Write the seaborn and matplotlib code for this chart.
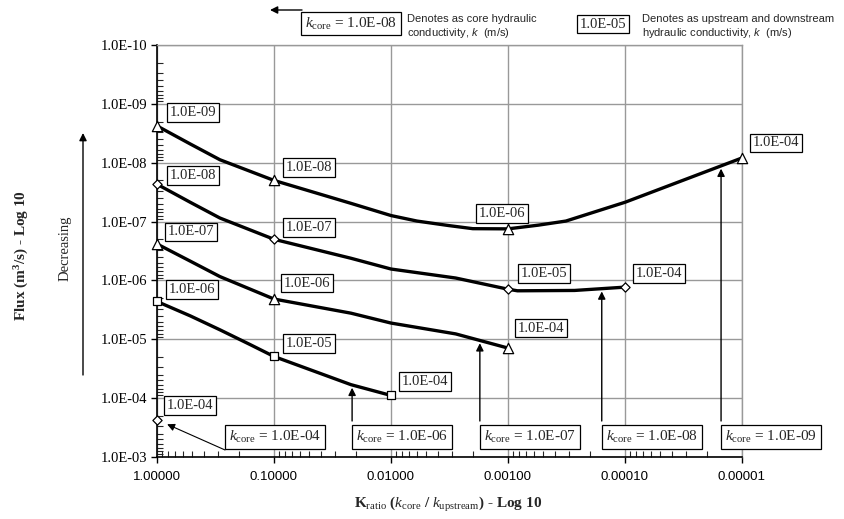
# flux versus k-ratio for several core conductivities
# values

import numpy as np
import matplotlib
matplotlib.use("Agg")
import matplotlib.pyplot as plt
import matplotlib.transforms as mtransforms
from matplotlib.ticker import LogLocator, NullFormatter
import seaborn as sns

# k_core = 1.0E-09
kratio_09 = [1, 0.52, 0.29, 0.1, 0.022, 0.01, 0.006, 0.0032, 0.002, 0.001,
             0.00055, 0.00032, 0.0001, 0.00001]
flux_09 = [2.37e-9, 4.8e-9, 8.9e-9, 2.0e-8, 4.9e-8, 7.9e-8, 9.8e-8, 1.17e-7,
           1.32e-7, 1.33e-7, 1.15e-7, 9.8e-8, 4.7e-8, 8.3e-9]
marked_09 = [0, 3, 9, 13]
kup_09 = ["1.0E-09", "1.0E-08", "1.0E-06", "1.0E-04"]

# k_core = 1.0E-08
kratio_08 = [1, 0.52, 0.29, 0.1, 0.022, 0.01, 0.0028, 0.001, 0.00083,
             0.00027, 0.0001]
flux_08 = [2.32e-8, 4.7e-8, 8.7e-8, 2.0e-7, 4.2e-7, 6.4e-7, 9.1e-7, 1.41e-6,
           1.5e-6, 1.48e-6, 1.3e-6]
marked_08 = [0, 3, 7, 10]
kup_08 = ["1.0E-08", "1.0E-07", "1.0E-05", "1.0E-04"]

# k_core = 1.0E-07
kratio_07 = [1, 0.52, 0.29, 0.1, 0.022, 0.01, 0.0028, 0.001]
flux_07 = [2.4e-7, 4.7e-7, 8.6e-7, 2.07e-6, 3.6e-6, 5.3e-6, 8.1e-6, 1.41e-5]
marked_07 = [0, 3, 7]
kup_07 = ["1.0E-07", "1.0E-06", "1.0E-04"]

# k_core = 1.0E-06
kratio_06 = [1, 0.52, 0.29, 0.16, 0.1, 0.022, 0.01]
flux_06 = [2.28e-6, 4.0e-6, 6.9e-6, 1.23e-5, 1.96e-5, 5.9e-5, 9.0e-5]
marked_06 = [0, 4, 6]
kup_06 = ["1.0E-06", "1.0E-05", "1.0E-04"]

# k_core = 1.0E-04
kratio_04 = [1]
flux_04 = [2.33e-4]
marked_04 = [0]
kup_04 = ["1.0E-04"]

xticks = [1, 0.1, 0.01, 0.001, 0.0001, 0.00001]
yticks = [1e-10, 1e-9, 1e-8, 1e-7, 1e-6, 1e-5, 1e-4, 1e-3]

# style
sns.set_style("white")
plt.rcParams["font.family"] = ["Liberation Serif", "DejaVu Serif"]
plt.rcParams["mathtext.fontset"] = "custom"
plt.rcParams["mathtext.rm"] = "Liberation Serif"
plt.rcParams["mathtext.it"] = "Liberation Serif:italic"
plt.rcParams["mathtext.bf"] = "Liberation Serif:bold"
plt.rcParams["mathtext.sf"] = "Liberation Sans:italic"

W, H = 845, 519
fig = plt.figure(figsize=(W / 100, H / 100), dpi=100)
ax = fig.add_axes([157 / W, 1 - 457 / H, 585 / W, 412 / H])
ax.set_xscale("log")
ax.set_yscale("log")


def fx(px):
    return px / W


def fy(py):
    return 1 - py / H


curves = [
    (kratio_09, flux_09, marked_09, kup_09, "^", 55,
     [(36, -13), (35, -13), (-6, -15), (34, -15)]),
    (kratio_08, flux_08, marked_08, kup_08, "D", 22,
     [(36, -9), (35, -12), (36, -16), (34, -14)]),
    (kratio_07, flux_07, marked_07, kup_07, "^", 55,
     [(34, -12), (33, -16), (33, -20)]),
    (kratio_06, flux_06, marked_06, kup_06, "s", 40,
     [(35, -12), (35, -13), (34, -14)]),
    (kratio_04, flux_04, marked_04, kup_04, "D", 22,
     [(33, -14)]),
]

box = dict(boxstyle="square,pad=0.2", fc="white", ec="black", lw=0.9)

for xs, ys, idx, labels, mk, size, offs in curves:
    if len(xs) > 1:
        sns.lineplot(x=xs, y=ys, ax=ax, color="black", lw=2.4,
                     sort=False, estimator=None, zorder=3)
    mx = [xs[i] for i in idx]
    my = [ys[i] for i in idx]
    sns.scatterplot(x=mx, y=my, ax=ax, marker=mk, s=size, color="white",
                    edgecolor="black", linewidth=0.9, zorder=5, clip_on=False)
    for x, y, lab, (dx, dy) in zip(mx, my, labels, offs):
        ax.annotate(lab, xy=(x, y), xytext=(dx * 0.72, -dy * 0.72),
                    textcoords="offset points", ha="center", va="center",
                    fontsize=10.5, bbox=box, zorder=6, annotation_clip=False)

ax.set_xlim(1, 1e-5)
ax.set_ylim(1e-3, 1e-10)

ax.set_xticks(xticks)
ax.set_xticklabels([f"{v:.5f}" for v in xticks], fontfamily="Liberation Sans",
                   fontsize=9.5)
ax.set_yticks(yticks)
ax.set_yticklabels([f"{v:.1E}" for v in yticks], fontsize=10.5)
for axis in (ax.xaxis, ax.yaxis):
    axis.set_minor_locator(LogLocator(base=10, subs=np.arange(2, 10), numticks=20))
    axis.set_minor_formatter(NullFormatter())
ax.tick_params(which="major", direction="out", length=4, width=1,
               colors="black", pad=3, bottom=True, left=True)
ax.tick_params(which="minor", direction="in", length=4, width=0.8,
               bottom=True, left=True)
ax.tick_params(axis="x", which="major", pad=6)

ax.grid(True, which="major", color="#999999", lw=1)
for side in ("left", "bottom"):
    ax.spines[side].set_color("black")
    ax.spines[side].set_linewidth(1.2)
for side in ("top", "right"):
    ax.spines[side].set_color("#999999")
    ax.spines[side].set_linewidth(1)
ax.set_xlabel("")
ax.set_ylabel("")

# k_core call-outs with arrows up to their curves
blend = mtransforms.blended_transform_factory(ax.transData, ax.transAxes)
kbox = dict(boxstyle="square,pad=0.25", fc="white", ec="black", lw=0.9)
arrow = dict(arrowstyle="-|>", color="black", lw=1, shrinkA=0, shrinkB=2,
             mutation_scale=11)
callouts = [(kratio_06, flux_06, 0.0215, "1.0E-06"),
            (kratio_07, flux_07, 0.00174, "1.0E-07"),
            (kratio_08, flux_08, 0.000158, "1.0E-08"),
            (kratio_09, flux_09, 1.51e-5, "1.0E-09")]
box_top = 36 / 412
box_mid = 20 / 412
text_shift = mtransforms.offset_copy(blend, fig=fig, x=3, units="points")
for xs, ys, xa, lab in callouts:
    ya = 10 ** np.interp(-np.log10(xa), -np.log10(xs), np.log10(ys))
    ax.annotate("", xy=(xa, ya), xytext=(xa, box_top), textcoords=blend,
                arrowprops=arrow, zorder=4)
    ax.text(xa, box_mid, r"$k_{\rm core}$ = " + lab, transform=text_shift,
            ha="left", va="center", fontsize=11, bbox=kbox, zorder=6)

# k_core = 1.0E-04 single point
ax.annotate("", xy=(kratio_04[0], flux_04[0]), xytext=(0.262, 7 / 412),
            textcoords=blend, arrowprops=dict(arrowstyle="-|>", color="black",
                                              lw=0.8, shrinkA=0, shrinkB=8,
                                              mutation_scale=11),
            annotation_clip=False, zorder=4)
ax.text(0.262, box_mid, r"$k_{\rm core}$ = " + kup_04[0], transform=text_shift,
        ha="left", va="center", fontsize=11, bbox=kbox, zorder=6)

# key at the top
fig.text(fx(305), fy(23.5), r"$k_{\rm core}$ = 1.0E-08", ha="left",
         va="center", fontsize=11, bbox=kbox)
ax.annotate("", xy=(fx(270), fy(10)), xycoords="figure fraction",
            xytext=(fx(302), fy(10)), textcoords="figure fraction",
            arrowprops=dict(arrowstyle="-|>", color="black", lw=1, shrinkA=0,
                            shrinkB=0, mutation_scale=11),
            annotation_clip=False)
fig.text(fx(407), fy(26.5),
         "Denotes as core hydraulic\nconductivity, $\\mathsf{k}$  (m/s)",
         ha="left", va="center", fontsize=8, fontfamily="Liberation Sans",
         linespacing=1.2)
fig.text(fx(603), fy(24), "1.0E-05", ha="center", va="center", fontsize=10.5,
         bbox=box)
fig.text(fx(642), fy(26.5),
         "Denotes as upstream and downstream\nhydraulic conductivity, $\\mathsf{k}$  (m/s)",
         ha="left", va="center", fontsize=8, fontfamily="Liberation Sans",
         linespacing=1.2)

# axis titles
fig.text(fx(448), fy(505),
         r"$\mathbf{K}_{\rm ratio}$ ($k_{\rm core}$ / $k_{\rm upstream}$) - Log 10",
         ha="center", va="center", fontsize=11, fontweight="bold")
fig.text(fx(22), fy(256), r"Flux (m$^{\bf 3}$/s) - Log 10", ha="center",
         va="center", rotation=90, fontsize=11, fontweight="bold")
fig.text(fx(65), fy(248), "Decreasing", ha="center", va="center",
         rotation=90, fontsize=10.5)
ax.annotate("", xy=(fx(83), fy(133)), xycoords="figure fraction",
            xytext=(fx(83), fy(375)), textcoords="figure fraction",
            arrowprops=dict(arrowstyle="-|>", color="black", lw=1, shrinkA=0,
                            shrinkB=0, mutation_scale=11),
            annotation_clip=False)

fig.savefig("out.png", dpi=100)
